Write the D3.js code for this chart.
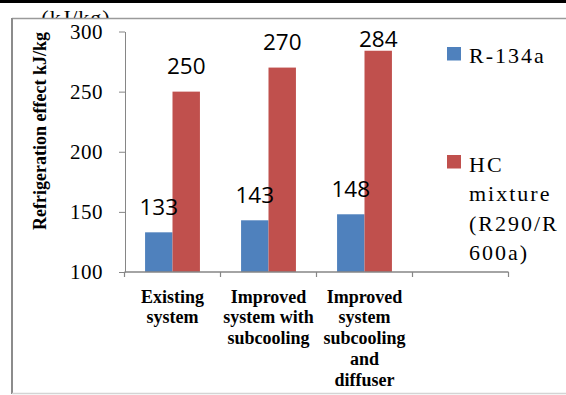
<!DOCTYPE html>
<html>
<head>
<meta charset="utf-8">
<script src="https://cdn.jsdelivr.net/npm/d3@7"></script>
<style>
  html, body { margin: 0; padding: 0; background: #fff; }
  svg { display: block; }
</style>
</head>
<body>
<script>
// Refrigeration effect per system configuration, two refrigerants
const slots = ["existing", "subcool", "subcoolDiffuser", "blank"];
const categoryLines = [
  ["Existing", "system"],
  ["Improved", "system with", "subcooling"],
  ["Improved", "system", "subcooling", "and", "diffuser"],
  []
];
const r134a = [133, 143, 148];
const hcMixture = [250, 270, 284];
const seriesNames = ["R-134a", "HC mixture (R290/R600a)"];
const legendLines = [["R-134a"], ["HC", "mixture", "(R290/R", "600a)"]];
const yTicks = [100, 150, 200, 250, 300];
const colors = ["#4f81bd", "#c0504d"];

const W = 566, H = 395;
const svg = d3.select("body").append("svg").attr("width", W).attr("height", H);

const serif = "'Liberation Serif', 'Times New Roman', serif";
const sans = "'Open Sans', 'Noto Sans', sans-serif";
const axisGrey = "#868686";

// stray unit text above the frame
svg.append("text")
  .attr("x", 76).attr("y", 25)
  .attr("text-anchor", "middle")
  .attr("font-family", serif).attr("font-size", 22)
  .attr("letter-spacing", 1)
  .text("(kJ/kg)");

// chart frame (white fill covers lower part of the unit text)
svg.append("rect").attr("x", 12).attr("y", 18.5).attr("width", W).attr("height", 375)
  .attr("fill", "#fff").attr("stroke", "none");
svg.append("line").attr("x1", 12).attr("x2", W).attr("y1", 18.5).attr("y2", 18.5)
  .attr("stroke", "#9a9a9a").attr("stroke-width", 1.5);
svg.append("line").attr("x1", 12).attr("x2", 12).attr("y1", 18).attr("y2", 394)
  .attr("stroke", "#8c8c8c").attr("stroke-width", 2);
svg.append("line").attr("x1", 12).attr("x2", W).attr("y1", 393.5).attr("y2", 393.5)
  .attr("stroke", "#d4d4d4").attr("stroke-width", 1.5);

// black rule at the very top
svg.append("rect").attr("x", 0).attr("y", 0).attr("width", W).attr("height", 3).attr("fill", "#000");

// scales
const x = d3.scaleBand().domain(slots).range([124.5, 508.5]).paddingInner(0).paddingOuter(0);
const y = d3.scaleLinear().domain([100, 300]).range([272, 31.5]);
const bw = x.bandwidth();
const barW = bw / 3.5;           // gap width 150%
const groupOff = barW * 0.75;

// bars
const seriesData = [r134a, hcMixture];
seriesData.forEach((vals, s) => {
  svg.append("g").selectAll("rect").data(vals).join("rect")
    .attr("x", (d, i) => x(slots[i]) + groupOff + s * barW)
    .attr("y", d => y(d))
    .attr("width", barW)
    .attr("height", d => y(100) - y(d))
    .attr("fill", colors[s]);
});

// value labels
seriesData.forEach((vals, s) => {
  svg.append("g").selectAll("text").data(vals).join("text")
    .attr("x", (d, i) => x(slots[i]) + groupOff + s * barW + barW / 2)
    .attr("y", d => Math.max(y(d) - 17.7, y(300) + 15.3))
    .attr("text-anchor", "middle")
    .attr("font-family", sans).attr("font-size", 22.5)
    .attr("fill", "#000")
    .text(d => d);
});

// y axis
const yAxis = svg.append("g").attr("transform", "translate(125,0)")
  .call(d3.axisLeft(y).tickValues(yTicks).tickSize(6).tickSizeOuter(0).tickPadding(16));
yAxis.select(".domain").attr("stroke", axisGrey);
yAxis.selectAll(".tick line").attr("stroke", axisGrey);
yAxis.selectAll(".tick text")
  .attr("font-family", serif).attr("font-size", 21).attr("fill", "#000")
  .attr("letter-spacing", 0.5);

// x axis line with category boundary ticks
const xAxisY = y(100);
svg.append("line")
  .attr("x1", x.range()[0]).attr("x2", x.range()[1])
  .attr("y1", xAxisY).attr("y2", xAxisY)
  .attr("stroke", axisGrey).attr("stroke-width", 1.5);
const bounds = slots.map(d => x(d)).concat([x.range()[1]]);
svg.append("g").selectAll("line").data(bounds).join("line")
  .attr("x1", d => d).attr("x2", d => d)
  .attr("y1", xAxisY).attr("y2", xAxisY + 5)
  .attr("stroke", axisGrey).attr("stroke-width", 1.2);

// category labels
slots.forEach((s, i) => {
  const t = svg.append("text")
    .attr("x", x(s) + bw / 2).attr("y", 302.5)
    .attr("text-anchor", "middle")
    .attr("font-family", serif).attr("font-weight", "bold").attr("font-size", 18)
    .attr("fill", "#000");
  categoryLines[i].forEach((ln, k) => {
    t.append("tspan").attr("x", x(s) + bw / 2).attr("dy", k === 0 ? 0 : 20.8).text(ln);
  });
});

// y axis title
svg.append("text")
  .attr("transform", "translate(46,131) rotate(-90)")
  .attr("text-anchor", "middle")
  .attr("font-family", serif).attr("font-weight", "bold").attr("font-size", 18)
  .attr("fill", "#000")
  .text("Refrigeration effect kJ/kg");

// legend
const legendTop = [47, 155];
const legendBase = [63.3, 171.5];
seriesNames.forEach((name, s) => {
  svg.append("rect").attr("x", 447).attr("y", legendTop[s]).attr("width", 14).attr("height", 13.5)
    .attr("fill", colors[s]);
  const t = svg.append("text").attr("x", 469).attr("y", legendBase[s])
    .attr("font-family", serif).attr("font-size", 22).attr("letter-spacing", 2)
    .attr("fill", "#000");
  legendLines[s].forEach((ln, k) => {
    t.append("tspan").attr("x", 469).attr("dy", k === 0 ? 0 : 29.6).text(ln);
  });
});
</script>
</body>
</html>
